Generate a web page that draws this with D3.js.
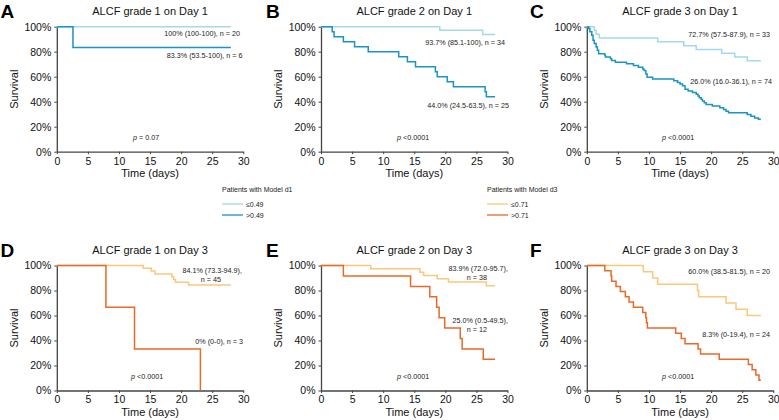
<!DOCTYPE html>
<html><head><meta charset="utf-8">
<script src="https://cdn.jsdelivr.net/npm/d3@7"></script>
<style>
body{margin:0;background:#fff;}
svg{font-family:"Liberation Sans",Arial,sans-serif;}
</style></head>
<body><svg id="c" width="779" height="420"></svg>
<script>
// ---- data: [time (days), survival %] step points ----
const curveA1 = [[0,100],[28,100]];
const curveA2 = [[0,100],[2.6,83.3],[28,83.3]];
const curveB1 = [[0,100],[19.1,97.1],[26.0,93.7],[28,93.7]];
const curveB2 = [[0,100],[1.8,96],[2.1,92],[3.6,88],[5.4,84],[7.6,80],[12.5,76],[13.9,72],[15.2,68],[18.4,64],[18.7,60],[20.3,56],[21.3,52],[26.4,48],[26.6,44],[28,44]];
const curveC1 = [[0,100],[1.2,97],[1.5,93.9],[2.0,90.9],[11.4,87.9],[15.6,84.8],[17.6,81.8],[21.7,78.8],[23.8,75.8],[25.8,72.7],[28,72.7]];
const curveC2 = [[0,100],[0.3,98.6],[0.5,95.9],[0.8,93.2],[1.0,89.2],[1.2,86.5],[1.5,83.8],[1.7,81.1],[1.9,78.4],[2.9,77.0],[3.0,75.7],[3.8,74.3],[4.0,73.0],[4.6,71.6],[6.4,70.3],[7.5,68.9],[8.3,67.6],[9.0,66.2],[9.2,64.9],[9.5,62.2],[9.7,59.5],[10.6,58.1],[14.0,56.8],[14.6,55.4],[15.0,54.1],[15.4,52.7],[15.8,50.0],[16.3,48.6],[17.0,47.3],[17.6,45.9],[17.9,44.6],[18.1,43.2],[18.4,41.9],[18.6,40.5],[18.9,39.2],[19.2,37.8],[20.2,36.5],[21.4,35.1],[22.0,33.8],[22.4,32.4],[22.8,31.1],[25.8,29.7],[26.4,28.4],[27.0,27.0],[27.6,26.0],[28,26.0]];
const curveD1 = [[0,100],[13.9,97.8],[15.2,95.6],[15.8,93.3],[18.5,91.1],[18.8,88.9],[19.1,86.7],[21.2,84.4],[28,84.4]];
const curveD2 = [[0,100],[7.9,66.7],[12.5,33.3],[23.1,0]];
const curveE1 = [[0,100],[8.0,97.4],[15.9,94.7],[16.5,92.1],[18.7,89.5],[20.5,86.8],[26.6,83.9],[28,83.9]];
const curveE2 = [[0,100],[3.6,91.7],[14.4,83.3],[17.5,75],[18.6,66.7],[19.0,58.3],[19.9,50],[22.4,41.7],[22.7,33.3],[26.1,25],[28,25]];
const curveF1 = [[0,100],[9.1,95],[10.6,90],[11.4,85],[17.8,80],[18.0,75],[22.4,70],[24.0,65],[25.8,60],[28,60]];
const curveF2 = [[0,100],[2.9,95.8],[3.9,91.7],[4.0,87.5],[4.7,83.3],[5.4,79.2],[6.2,75],[6.8,70.8],[7.5,66.7],[9.0,62.5],[9.5,58.3],[9.6,54.2],[9.75,50],[14.3,45.8],[15.2,41.7],[15.8,37.5],[17.9,33.3],[18.3,29.2],[21.3,25],[26.0,20.8],[26.6,16.7],[27.2,12.5],[27.7,8.3],[28,8.3]];

const panelLetters = ["A","B","C","D","E","F"];
const panelTitles = ["ALCF grade 1 on Day 1","ALCF grade 2 on Day 1","ALCF grade 3 on Day 1","ALCF grade 1 on Day 3","ALCF grade 2 on Day 3","ALCF grade 3 on Day 3"];
const pValues = ["= 0.07","<0.0001","<0.0001","<0.0001","<0.0001","<0.0001"];
const xTicks = [0,5,10,15,20,25,30];
const yTicks = [0,20,40,60,80,100];
const legend1Labels = ["≤0.49",">0.49"];
const legend2Labels = ["≤0.71",">0.71"];

const colLightBlue = "#a3d9e8", colDarkBlue = "#1a93c6";
const colLightOrange = "#fcc779", colDarkOrange = "#e76a28";

const svg = d3.select("#c");
const W = 186.5, H = 125;
const lefts = [56.8, 321, 586.8];
const tops = [26.7, 265.5];

const panels = [
  {curves:[curveA1,curveA2], cols:[colLightBlue,colDarkBlue],
   notes:[{t:["100% (100-100), n = 20"],x:240,y:36},{t:["83.3% (53.5-100), n = 6"],x:242.5,y:58}], p:{x:133,y:140}},
  {curves:[curveB1,curveB2], cols:[colLightBlue,colDarkBlue],
   notes:[{t:["93.7% (85.1-100), n = 34"],x:505,y:45},{t:["44.0% (24.5-63.5), n = 25"],x:509,y:108}], p:{x:397,y:140}},
  {curves:[curveC1,curveC2], cols:[colLightBlue,colDarkBlue],
   notes:[{t:["72.7% (57.5-87.9), n = 33"],x:770,y:37},{t:["26.0% (16.0-36.1), n = 74"],x:772,y:84}], p:{x:662,y:140}},
  {curves:[curveD1,curveD2], cols:[colLightOrange,colDarkOrange],
   notes:[{t:["84.1% (73.3-94.9),","n = 45"],x:242,y:273},{t:["0% (0-0), n = 3"],x:243,y:344}], p:{x:131,y:379}},
  {curves:[curveE1,curveE2], cols:[colLightOrange,colDarkOrange],
   notes:[{t:["83.9% (72.0-95.7),","n = 38"],x:508,y:271},{t:["25.0% (0.5-49.5),","n = 12"],x:508,y:323}], p:{x:397,y:379}},
  {curves:[curveF1,curveF2], cols:[colLightOrange,colDarkOrange],
   notes:[{t:["60.0% (38.5-81.5), n = 20"],x:770,y:274},{t:["8.3% (0-19.4), n = 24"],x:770,y:337}], p:{x:662,y:379}}
];

panels.forEach((p,i)=>{
  const L = lefts[i%3], T = tops[Math.floor(i/3)];
  const x = d3.scaleLinear().domain([0,30]).range([L, L+W]);
  const y = d3.scaleLinear().domain([0,100]).range([T+H, T]);
  const g = svg.append("g");

  const xa = g.append("g").attr("transform",`translate(0,${T+H})`)
    .call(d3.axisBottom(x).tickValues(xTicks).tickSize(2.5).tickPadding(3).tickSizeOuter(0));
  const ya = g.append("g").attr("transform",`translate(${L},0)`)
    .call(d3.axisLeft(y).tickValues(yTicks).tickFormat(d=>d+"%").tickSize(2.5).tickPadding(3).tickSizeOuter(0));
  [xa,ya].forEach(a=>{
    a.select(".domain").attr("stroke","#444").attr("stroke-width",1.3);
    a.selectAll(".tick line").attr("stroke","#444").attr("stroke-width",1);
    a.selectAll("text").attr("font-size",10.5).attr("fill","#111").attr("font-family","Liberation Sans, Arial, sans-serif");
  });

  const line = d3.line().x(d=>x(d[0])).y(d=>y(d[1])).curve(d3.curveStepAfter);
  p.curves.forEach((c,k)=>{
    g.append("path").datum(c).attr("d",line).attr("fill","none")
      .attr("stroke",p.cols[k]).attr("stroke-width",1.5);
  });

  g.append("text").attr("x",L+W/2).attr("y",T-12).attr("text-anchor","middle")
    .attr("font-size",11).attr("fill","#111").text(panelTitles[i]);
  const lx = [0.5,266,530][i%3];
  g.append("text").attr("x",lx).attr("y",T-9).attr("font-size",19).attr("font-weight","bold")
    .attr("fill","#000").text(panelLetters[i]);
  g.append("text").attr("transform",`translate(${L-39},${T+H/2}) rotate(-90)`)
    .attr("text-anchor","middle").attr("font-size",11).attr("fill","#111").text("Survival");
  g.append("text").attr("x",L+W/2).attr("y",T+H+25.5).attr("text-anchor","middle")
    .attr("font-size",11).attr("fill","#111").text("Time (days)");

  p.notes.forEach(n=>{
    g.append("text").attr("x",n.x).attr("y",n.y).attr("font-size",7.2).attr("fill","#222").attr("text-anchor","end").text(n.t[0]);
    if(n.t.length>1){
      g.append("text").attr("x",n.x-21).attr("y",n.y+8.5).attr("font-size",7.2).attr("fill","#222").attr("text-anchor","end").text(n.t[1]);
    }
  });
  const pt = g.append("text").attr("x",p.p.x).attr("y",p.p.y).attr("font-size",7.2).attr("fill","#222");
  pt.append("tspan").attr("font-style","italic").text("p");
  pt.append("tspan").text(" "+pValues[i]);
});

function legend(x0, title, labels, cols){
  const g = svg.append("g");
  g.append("text").attr("x",x0).attr("y",192).attr("font-size",7).attr("fill","#222").text(title);
  labels.forEach((l,k)=>{
    const yy = 204 + k*11;
    g.append("line").attr("x1",x0).attr("x2",x0+21).attr("y1",yy).attr("y2",yy)
      .attr("stroke",cols[k]).attr("stroke-width",1.3);
    g.append("text").attr("x",x0+24).attr("y",yy+2.5).attr("font-size",7).attr("fill","#222").text(l);
  });
}
legend(222, "Patients with Model d1", legend1Labels, [colLightBlue,colDarkBlue]);
legend(487, "Patients with Model d3", legend2Labels, [colLightOrange,colDarkOrange]);
</script></body></html>
